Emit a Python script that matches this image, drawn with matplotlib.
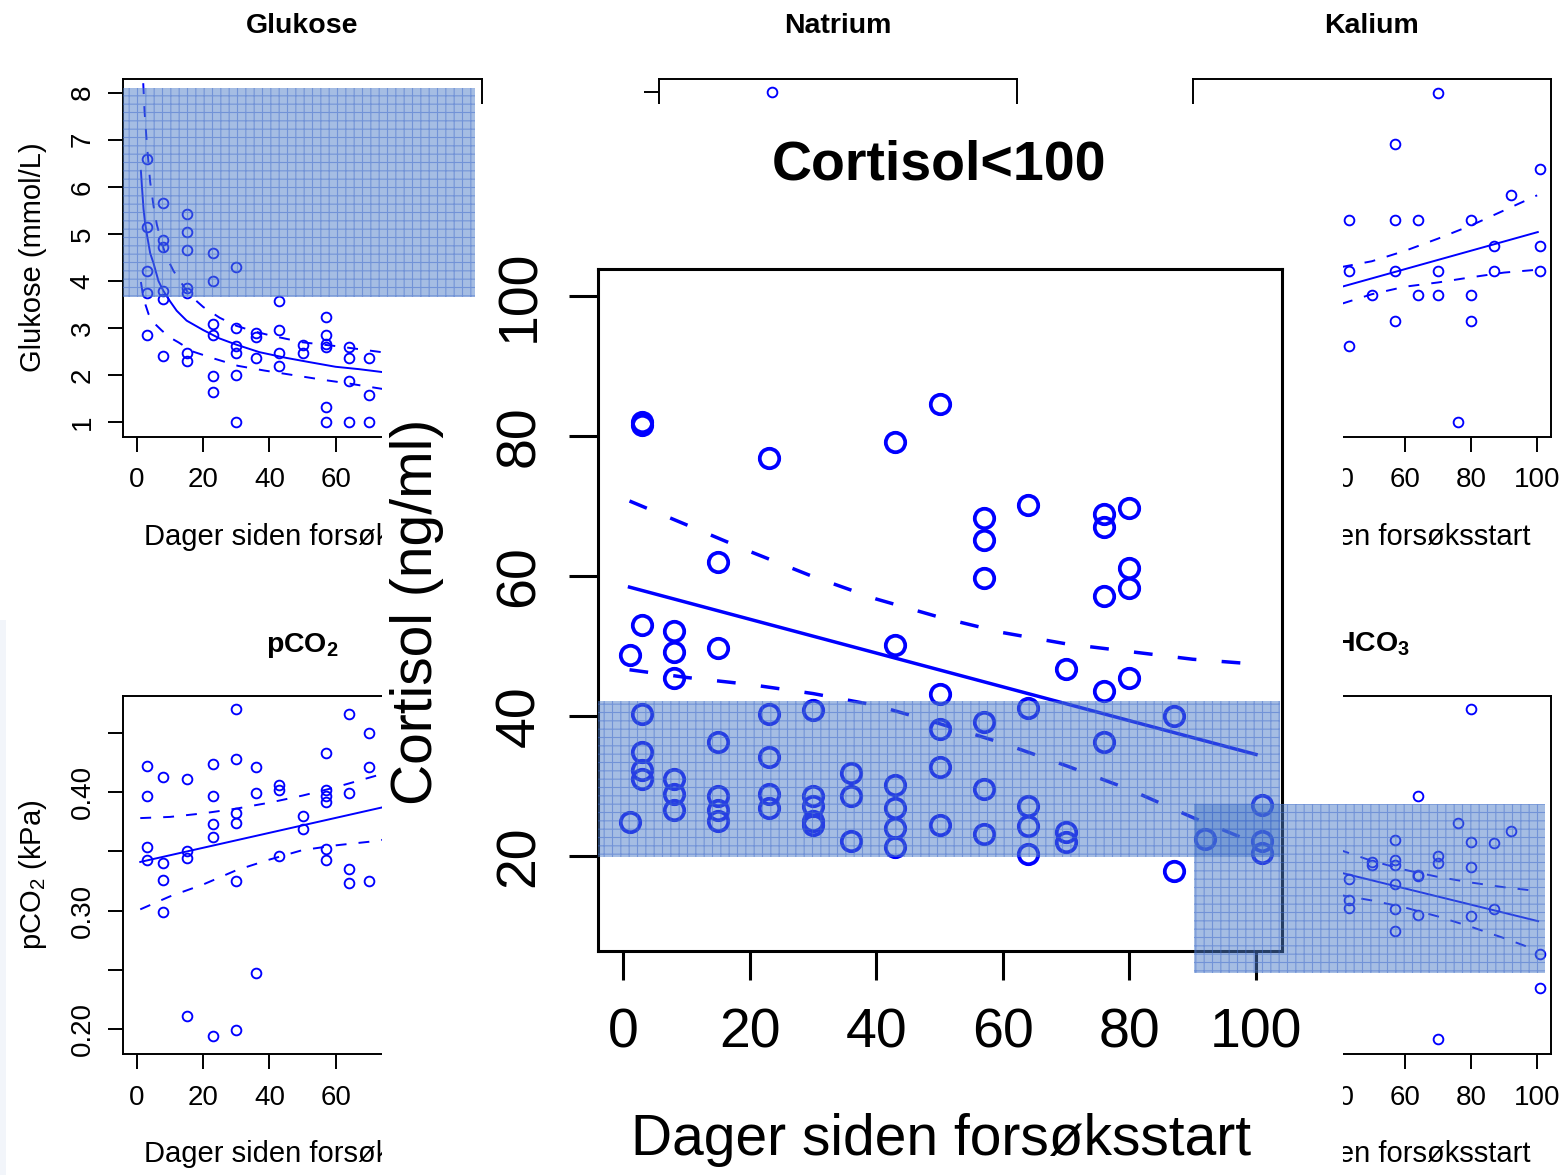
import matplotlib
matplotlib.use("Agg")
import matplotlib.pyplot as plt
from matplotlib.patches import Rectangle

plt.rcParams["font.family"] = ["Liberation Sans", "DejaVu Sans"]
plt.rcParams["mathtext.fontset"] = "custom"
plt.rcParams["mathtext.rm"] = "Liberation Sans"
plt.rcParams["mathtext.it"] = "Liberation Sans:italic"
plt.rcParams["mathtext.bf"] = "Liberation Sans:bold"
plt.rcParams["hatch.linewidth"] = 0.8

# ------------------------------------------------------------------ data
day_ticks = [0, 20, 40, 60, 80, 100]

# Glukose (mmol/L)
glu_day = [3, 3, 3, 3, 3, 8, 8, 8, 8, 8, 8, 15, 15, 15, 15, 15, 15, 15,
           23, 23, 23, 23, 23, 23, 30, 30, 30, 30, 30, 30, 36, 36, 36,
           43, 43, 43, 43, 50, 50, 57, 57, 57, 57, 57, 57, 64, 64, 64, 64,
           70, 70, 70]
glu_val = [6.59, 5.15, 4.22, 3.74, 2.85, 5.65, 4.87, 4.72, 3.79, 3.62, 2.41,
           5.43, 5.04, 4.66, 3.85, 3.74, 2.47, 2.31,
           4.60, 4.00, 3.08, 2.85, 1.98, 1.64, 4.29, 3.00, 2.62, 2.47, 2.00, 1.00,
           2.89, 2.81, 2.37, 3.57, 2.96, 2.47, 2.19, 2.64, 2.47,
           3.24, 2.85, 2.66, 2.59, 1.32, 1.00, 2.59, 2.37, 1.87, 1.00,
           2.37, 1.59, 1.00]
glu_fit_x = [1.2, 1.5, 2, 2.5, 3, 4, 5, 6.5, 8, 10, 12, 15, 20, 25, 30,
             37, 45, 52, 60, 67, 75]
glu_fit_y = [6.34, 6.01, 5.52, 5.21, 4.99, 4.59, 4.38, 4.00, 3.79, 3.57,
             3.37, 3.16, 2.96, 2.78, 2.65, 2.49, 2.37, 2.28, 2.18, 2.13, 2.06]
glu_up_x = [1.9, 2.3, 3, 4, 5, 6, 7.5, 9, 11, 13, 16, 20, 25, 30, 35, 40,
            50, 60, 75]
glu_up_y = [8.2, 7.6, 6.9, 6.1, 5.6, 5.2, 4.8, 4.5, 4.22, 4.0, 3.7, 3.45,
            3.22, 3.05, 2.94, 2.85, 2.7, 2.62, 2.48]
glu_lo_x = [1.2, 2, 3.5, 5, 7.5, 10, 12.5, 17, 23.5, 30.5, 38.5, 47.5,
            56.5, 63.5, 75]
glu_lo_y = [3.98, 3.62, 3.3, 3.12, 2.95, 2.8, 2.7, 2.5, 2.35, 2.2, 2.1,
            2.0, 1.9, 1.83, 1.7]

# Natrium (only the visible point)
na_day = [30]
na_val = [170]

# Kalium
k_day = [43, 43, 43, 50, 57, 57, 57, 57, 64, 64, 70, 70, 70, 76,
         80, 80, 80, 87, 87, 92, 101, 101, 101]
k_val = [5.29, 4.21, 2.62, 3.70, 6.91, 5.29, 4.21, 3.15, 5.29, 3.70,
         7.99, 4.21, 3.70, 1.00, 5.29, 3.70, 3.15, 4.75, 4.21, 5.83,
         6.38, 4.75, 4.21]
k_fit_x = [41, 100.2]
k_fit_y = [3.88, 5.04]
k_band_x = [41, 50, 60, 70, 80, 90, 100]
k_up_y = [4.30, 4.42, 4.64, 4.90, 5.18, 5.50, 5.82]
k_lo_y = [3.52, 3.72, 3.88, 3.97, 4.08, 4.18, 4.24]

# pCO2 (kPa)
pco2_day = [3, 3, 3, 3, 8, 8, 8, 8, 15, 15, 15, 15, 23, 23, 23, 23, 23,
            30, 30, 30, 30, 30, 30, 36, 36, 36, 43, 43, 43, 50, 50,
            57, 57, 57, 57, 57, 57, 64, 64, 64, 64, 70, 70, 70]
pco2_val = [0.422, 0.397, 0.354, 0.343, 0.413, 0.340, 0.326, 0.299,
            0.411, 0.350, 0.344, 0.211, 0.424, 0.397, 0.373, 0.362, 0.194,
            0.470, 0.428, 0.382, 0.374, 0.325, 0.199, 0.421, 0.399, 0.247,
            0.406, 0.402, 0.346, 0.380, 0.369,
            0.433, 0.402, 0.397, 0.392, 0.352, 0.343,
            0.466, 0.399, 0.335, 0.323, 0.450, 0.421, 0.325]
pco2_fit_x = [1, 101]
pco2_fit_y = [0.341, 0.404]
pco2_band_x = [1, 10, 20, 30, 40, 50, 60, 70, 75]
pco2_up_y = [0.378, 0.379, 0.382, 0.386, 0.391, 0.397, 0.404, 0.412, 0.416]
pco2_lo_y = [0.301, 0.312, 0.322, 0.334, 0.343, 0.351, 0.355, 0.358, 0.360]

# HCO3
hco3_day = [43, 43, 43, 50, 50, 57, 57, 57, 57, 57, 57, 64, 64, 64, 64,
            70, 70, 70, 76, 80, 80, 80, 80, 87, 87, 92, 101, 101]
hco3_val = [4.41, 3.96, 3.80, 4.78, 4.72, 5.24, 4.82, 4.72, 4.31, 3.78, 3.32,
            6.17, 4.51, 4.47, 3.66, 4.90, 4.76, 1.01, 5.61,
            8.02, 5.20, 4.67, 3.64, 5.18, 3.77, 5.43, 2.83, 2.10]
hco3_fit_x = [40, 100.3]
hco3_fit_y = [4.56, 3.52]
hco3_band_x = [40, 50, 60, 70, 80, 90, 100]
hco3_up_y = [5.04, 4.80, 4.61, 4.46, 4.34, 4.24, 4.16]
hco3_lo_y = [4.08, 3.96, 3.81, 3.62, 3.40, 3.16, 2.90]

# Cortisol < 100 (ng/ml)
cort_day = [1, 1,
            3, 3, 3, 3, 3, 3, 3,
            8, 8, 8, 8, 8, 8,
            15, 15, 15, 15, 15, 15,
            23, 23, 23, 23, 23,
            30, 30, 30, 30, 30,
            36, 36, 36,
            43, 43, 43, 43, 43, 43,
            50, 50, 50, 50, 50,
            57, 57, 57, 57, 57, 57,
            64, 64, 64, 64, 64,
            70, 70, 70,
            76, 76, 76, 76, 76,
            80, 80, 80, 80,
            87, 87,
            92,
            101, 101, 101]
cort_val = [48.7, 24.8,
            82.0, 81.5, 53.0, 40.3, 34.9, 32.3, 31.0,
            52.2, 49.1, 45.4, 31.0, 28.8, 26.6,
            62.0, 49.7, 36.3, 28.6, 26.6, 25.0,
            76.9, 40.3, 34.2, 28.8, 26.9,
            40.8, 28.6, 27.2, 25.0, 24.4,
            31.8, 28.6, 22.2,
            79.1, 50.1, 30.1, 26.9, 24.0, 21.3,
            84.6, 43.2, 38.1, 32.7, 24.5,
            68.3, 65.2, 59.7, 39.1, 29.5, 23.1,
            70.1, 41.1, 27.1, 24.3, 20.3,
            46.7, 23.5, 22.0,
            68.8, 67.0, 57.1, 43.6, 36.3,
            69.7, 61.1, 58.3, 45.4,
            40.0, 17.9,
            22.4,
            27.3, 22.1, 20.5]
cort_fit_x = [1, 100]
cort_fit_y = [58.4, 34.5]
cort_band_x = [1, 10, 20, 30, 40, 50, 60, 70, 80, 90, 100]
cort_up_y = [70.7, 67.3, 63.5, 59.9, 56.7, 54.1, 51.9, 50.3, 49.2, 48.1, 47.4]
cort_lo_y = [46.6, 45.5, 44.5, 43.2, 41.5, 38.9, 36.1, 32.9, 29.5, 25.5, 21.8]

# ------------------------------------------------------------------ figure
W, H = 1566, 1175
BLUE = "#0000ff"
fig = plt.figure(figsize=(W / 100, H / 100), dpi=100)
fig.patch.set_facecolor("white")


def rect_px(l, t, r, b):
    return [l / W, 1 - b / H, (r - l) / W, (b - t) / H]


def fpos(x, y):
    return x / W, 1 - y / H


XLIM = (-4.06, 104.1)


def small_axes(box, ylim, yticks, ylabels=None, show_y=True):
    ax = fig.add_axes(rect_px(*box))
    ax.set_xlim(*XLIM)
    ax.set_ylim(*ylim)
    ax.set_xticks(day_ticks, [str(d) for d in day_ticks])
    if ylabels is None:
        ylabels = [f"{v:g}" for v in yticks]
    ax.set_yticks(yticks, ylabels)
    ax.tick_params(direction="out", length=10.8, width=1.4, labelsize=20,
                   colors="black")
    ax.tick_params(axis="x", pad=11.5)
    ax.tick_params(axis="y", pad=9.4, labelrotation=90, labelleft=show_y)
    for lab in ax.get_yticklabels():
        lab.set_va("center")
    for s in ax.spines.values():
        s.set_linewidth(1.4)
    return ax


def draw(ax, x, y, fx=None, fy=None, bx=None, uy=None, ly=None,
         ux=None, lx=None, ms=7, mew=1.35, lw=1.4, dash=(5.6, 6.2)):
    ax.plot(x, y, ls="none", marker="o", mfc="none", mec=BLUE, ms=ms, mew=mew)
    if fx is not None:
        ax.plot(fx, fy, color=BLUE, lw=lw)
    if uy is not None:
        ax.plot(ux if ux is not None else bx, uy, color=BLUE, lw=lw,
                ls=(0, dash))
        ax.plot(lx if lx is not None else bx, ly, color=BLUE, lw=lw,
                ls=(0, dash))


# --- background panels -------------------------------------------------
ax_glu = small_axes((123.5, 78.5, 481.7, 436.5), (0.7, 8.3), [1, 2, 3, 4, 5, 6, 7, 8])
draw(ax_glu, glu_day, glu_val, glu_fit_x, glu_fit_y, None, glu_up_y, glu_lo_y,
     ux=glu_up_x, lx=glu_lo_x)

ax_na = small_axes((659, 78.5, 1016.5, 436.5), (128.4, 171.6), [170], show_y=False)
draw(ax_na, na_day, na_val)

ax_k = small_axes((1193, 78.5, 1550.7, 436.5), (0.7, 8.3), [2, 4, 6])
draw(ax_k, k_day, k_val, k_fit_x, k_fit_y, k_band_x, k_up_y, k_lo_y)

ax_p = small_axes((123.5, 696, 481.7, 1054), (0.179, 0.481),
                  [0.20, 0.25, 0.30, 0.35, 0.40, 0.45],
                  ["0.20", "", "0.30", "", "0.40", ""])
draw(ax_p, pco2_day, pco2_val, pco2_fit_x, pco2_fit_y, pco2_band_x,
     pco2_up_y, pco2_lo_y)

ax_h = small_axes((1193, 696, 1550.7, 1054), (0.7, 8.3), [2, 4, 6])
draw(ax_h, hco3_day, hco3_val, hco3_fit_x, hco3_fit_y, hco3_band_x,
     hco3_up_y, hco3_lo_y)

# background titles / labels
for cx, cy, s in [(302.5, 33, "Glukose"), (838, 33, "Natrium"),
                  (1371.5, 33, "Kalium"), (302.5, 652, r"pCO$_\mathbf{2}$"),
                  (1372, 652, r"HCO$_\mathbf{3}$")]:
    fig.text(*fpos(cx, cy), s, ha="center", va="baseline",
             fontsize=20.5, fontweight="bold")
for cx, cy in [(302.5, 545), (1371.5, 545), (302.5, 1162), (1371.5, 1162)]:
    fig.text(*fpos(cx, cy), "Dager siden forsøksstart", ha="center",
             va="baseline", fontsize=21)
fig.text(*fpos(41, 257.5), "Glukose (mmol/L)", rotation=90,
         rotation_mode="anchor", ha="center", va="baseline", fontsize=21)
fig.text(*fpos(41, 875), r"pCO$_2$ (kPa)", rotation=90,
         rotation_mode="anchor", ha="center", va="baseline", fontsize=21)

# faint strip at the left edge
fig.add_artist(Rectangle((0, 0), 6 / W, (1175 - 620) / H,
                         transform=fig.transFigure, facecolor="#f2f5fa",
                         edgecolor="none", zorder=2))

# --- white overlay holding the large plot ------------------------------
fig.add_artist(Rectangle((382 / W, 0), (1343 - 382) / W, (1175 - 104) / H,
                         transform=fig.transFigure, facecolor="white",
                         edgecolor="none", zorder=5))

ax = fig.add_axes(rect_px(597.5, 268.5, 1281.7, 950.7), zorder=6)
ax.set_xlim(-4.06, 104.06)
ax.set_ylim(6.48, 103.9)
ax.set_xticks(day_ticks, [str(d) for d in day_ticks])
ax.set_yticks([20, 40, 60, 80, 100], ["20", "40", "60", "80", "100"])
ax.tick_params(direction="out", length=21, width=2.2, labelsize=40,
               colors="black")
ax.tick_params(axis="x", pad=20)
ax.tick_params(axis="y", pad=16, labelrotation=90)
for lab in ax.get_yticklabels():
    lab.set_va("center")
for s in ax.spines.values():
    s.set_linewidth(2.2)
draw(ax, cort_day, cort_val, cort_fit_x, cort_fit_y, cort_band_x,
     cort_up_y, cort_lo_y, ms=14, mew=2.7, lw=2.5, dash=(5.4, 7.3))

fig.text(*fpos(939, 180), "Cortisol<100", ha="center", va="baseline",
         fontsize=40, fontweight="bold", zorder=7)
fig.text(*fpos(941, 1155), "Dager siden forsøksstart", ha="center",
         va="baseline", fontsize=41, zorder=7)
fig.text(*fpos(432, 612), "Cortisol (ng/ml)", rotation=90,
         rotation_mode="anchor", ha="center", va="baseline", fontsize=41,
         zorder=7)

# --- highlight boxes -----------------------------------------------------
for (l, t, r, b) in [(123.5, 87.7, 475, 296.7), (597.5, 701, 1279.7, 857.3),
                     (1194, 804, 1545, 972.7)]:
    fig.add_artist(Rectangle((l / W, 1 - b / H), (r - l) / W, (b - t) / H,
                             transform=fig.transFigure,
                             facecolor=(0.30, 0.49, 0.79, 0.50),
                             edgecolor=(0.25, 0.42, 0.80, 0.50),
                             hatch="++", linewidth=0, zorder=10))

fig.savefig("out.png", dpi=100)
